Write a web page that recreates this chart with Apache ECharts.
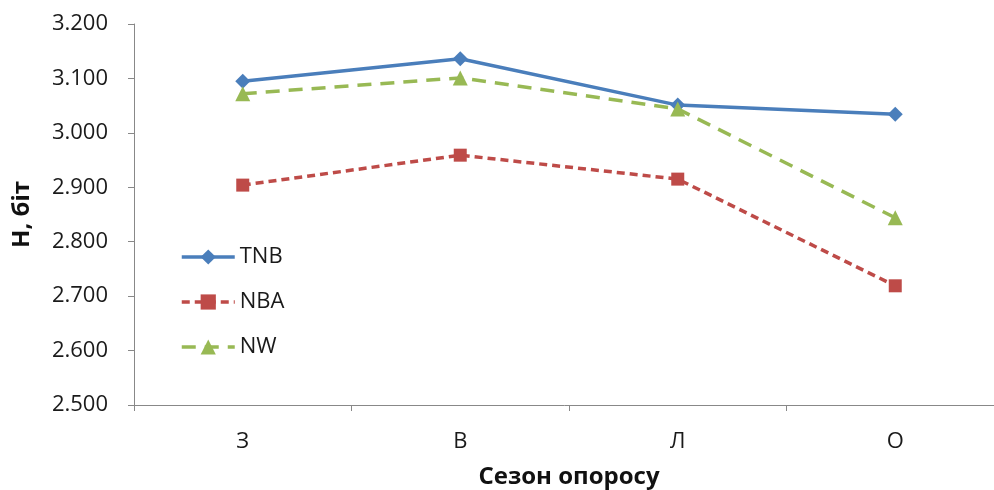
<!DOCTYPE html>
<html><head><meta charset="utf-8">
<script src="https://cdn.jsdelivr.net/npm/echarts@6/dist/echarts.min.js"></script>
<style>html,body{margin:0;padding:0;background:#fff}#c{width:994px;height:490px}</style>
</head><body><div id="c"></div>
<script>
const categories = ['З', 'В', 'Л', 'О'];
const tnb = [3.095, 3.136, 3.051, 3.034];
const nba = [2.904, 2.959, 2.915, 2.719];
const nw = [3.072, 3.101, 3.044, 2.844];
const yTicks = { min: 2.5, max: 3.2, interval: 0.1 };

const font = '"Open Sans", sans-serif';
const chart = echarts.init(document.getElementById('c'));
chart.setOption({
  animation: false,
  textStyle: { fontFamily: font },
  grid: { left: 134, top: 24, width: 870, height: 381, containLabel: false, outerBoundsMode: 'none' },
  legend: {
    orient: 'vertical', left: 175, top: 241, itemGap: 23, itemWidth: 53, itemHeight: 19,
    textStyle: { fontSize: 22, color: '#1a1a1a', fontFamily: font },
    lineStyle: { width: 3.5 },
    data: ['TNB', 'NBA', 'NW']
  },
  xAxis: {
    type: 'category', data: categories, boundaryGap: true,
    name: 'Сезон опоросу', nameLocation: 'middle', nameGap: 60,
    nameTextStyle: { fontSize: 24, fontWeight: 'bold', color: '#111', fontFamily: font },
    axisLine: { lineStyle: { color: '#888', width: 1 } },
    axisTick: { show: true, length: 6, lineStyle: { color: '#888' } },
    axisLabel: { fontSize: 22, color: '#1a1a1a', margin: 26 }
  },
  yAxis: {
    type: 'value', min: yTicks.min, max: yTicks.max, interval: yTicks.interval,
    name: 'H, біт', nameLocation: 'middle', nameGap: 100, nameRotate: 90,
    nameTextStyle: { fontSize: 24, fontWeight: 'bold', color: '#111', fontFamily: font },
    axisLine: { show: true, lineStyle: { color: '#888', width: 1 } },
    axisTick: { show: true, length: 6, lineStyle: { color: '#888' } },
    splitLine: { show: false },
    axisLabel: { fontSize: 22, color: '#1a1a1a', margin: 26, formatter: v => v.toFixed(3) }
  },
  series: [
    { name: 'TNB', type: 'line', data: tnb, symbol: 'diamond', symbolSize: 15,
      itemStyle: { color: '#4A7EBB' }, lineStyle: { color: '#4A7EBB', width: 3.5 } },
    { name: 'NBA', type: 'line', data: nba, symbol: 'rect', symbolSize: 13,
      itemStyle: { color: '#BE4B48' }, lineStyle: { color: '#BE4B48', width: 3.5, type: [8, 5] } },
    { name: 'NW', type: 'line', data: nw, symbol: 'triangle', symbolSize: 15,
      itemStyle: { color: '#98B954' }, lineStyle: { color: '#98B954', width: 3.5, type: [14, 9] } }
  ]
});
</script></body></html>
